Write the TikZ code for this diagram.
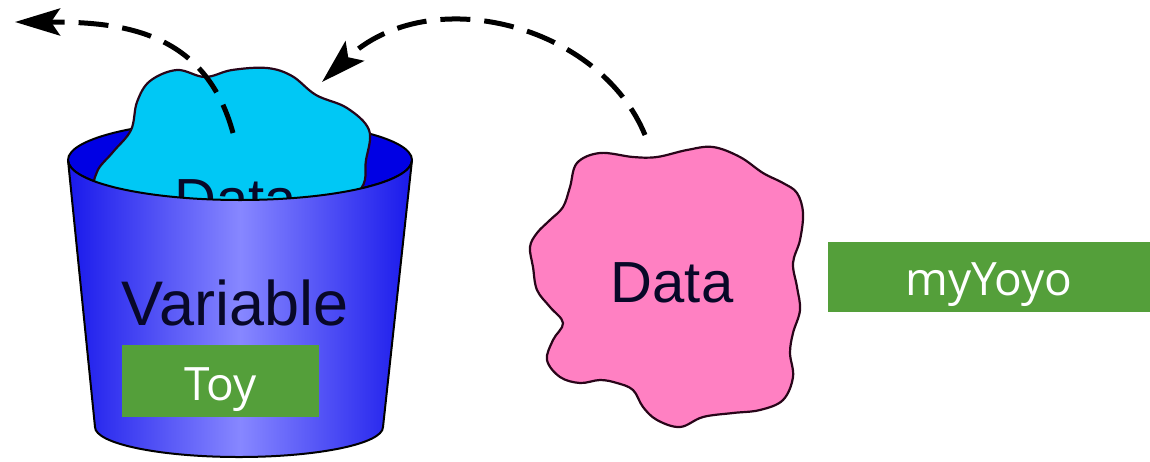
\documentclass[tikz,border=0pt]{standalone}
\usepackage{fontspec}
\setmainfont{Liberation Sans}
\newfontfamily\boxfont{Open Sans}
\usetikzlibrary{arrows.meta}
\definecolor{boxgreen}{RGB}{84,159,58}
\definecolor{cyanblob}{RGB}{0,200,245}
\definecolor{pinkblob}{RGB}{255,128,194}
\definecolor{innerblue}{RGB}{0,0,228}
\definecolor{edgeblue}{RGB}{25,25,235}
\definecolor{midblue}{RGB}{135,135,255}
\definecolor{inkblue}{RGB}{8,8,40}
\definecolor{blobline}{RGB}{40,5,25}
\tikzset{
  outline/.style={draw=black, line width=2pt, line join=round},
  blobtext/.style={font=\fontsize{58}{60}\selectfont, text=inkblue, inner sep=0pt, anchor=base},
  greenbox/.style={fill=boxgreen, text=white, font=\boxfont\fontsize{45}{50}\selectfont, inner sep=0pt},
  boxlabel/.style={text=white, font=\boxfont\fontsize{46}{50}\selectfont, inner sep=0pt, anchor=base},
  dasharrow/.style={line width=5pt, dash pattern=on 30pt off 14pt, -{Stealth[length=45pt, width=27pt, inset=9pt]}},
}
\begin{document}
\begin{tikzpicture}[x=1pt, y=-1pt]
\useasboundingbox (0,0) rectangle (1150,461);
% inner of bucket
\path[outline, fill=innerblue] (240,160) ellipse[x radius=172, y radius=40];
% cyan blob
\path[draw=blobline, line width=2.2pt, fill=cyanblob]
  plot[smooth cycle, tension=0.6] coordinates {
  (100,192) (97,172) (113,152) (131,130) (137,102) (150,81) (177,70) (205,77)
  (232,70) (267,68) (292,76) (316,95) (347,108) (369,130) (366,160) (358,192)
  (300,222) (230,226) (160,220)};
\node[blobtext] (cdata) at (236,219) {Data};
% bucket body
\path[outline, left color=edgeblue, right color=edgeblue, middle color=midblue]
  (68,160) arc[start angle=180, end angle=0, x radius=172, y radius=40]
  -- (383,427) arc[start angle=0, end angle=180, x radius=144, y radius=30]
  -- cycle;
\node[blobtext, font=\fontsize{63}{66}\selectfont] (variable) at (235,325) {Variable};
\node[greenbox, minimum width=197pt, minimum height=72pt] (toy) at (220.5,381) {};
\node[boxlabel] (toytext) at (toy.center |- 0,400) {Toy};
% pink blob
\path[draw=blobline, line width=2.2pt, fill=pinkblob]
  plot[smooth cycle, tension=0.6] coordinates {
  (577,163) (600,153) (633,157) (657,157) (687,150) (713,147) (740,157)
  (763,173) (783,183) (797,193) (803,213) (800,240) (793,263) (797,287)
  (800,310) (793,333) (790,353) (793,377) (783,400) (760,410) (733,413)
  (703,417) (680,427) (657,420) (643,407) (633,390) (617,383) (600,380)
  (580,383) (560,377) (547,360) (553,340) (563,323) (550,307) (537,290)
  (533,267) (530,247) (537,233) (550,220) (563,207) (570,187)};
\node[blobtext] (pdata) at (672,302) {Data};
% myYoyo box
\node[greenbox, minimum width=322pt, minimum height=70pt] (yoyo) at (989,277) {};
\node[boxlabel] (yoyotext) at (yoyo.center |- 0,295) {myYoyo};
% arrows
\coordinate (pstart) at (645,135);
\coordinate (cend) at (322,82);
\coordinate (cstart) at (233,133);
\coordinate (away) at (15,22);
\draw[dasharrow] (pstart) .. controls (600,25) and (430,-20) .. (cend);
\draw[dasharrow] (cstart) .. controls (205,30) and (120,22) .. (away);
\end{tikzpicture}
\end{document}
